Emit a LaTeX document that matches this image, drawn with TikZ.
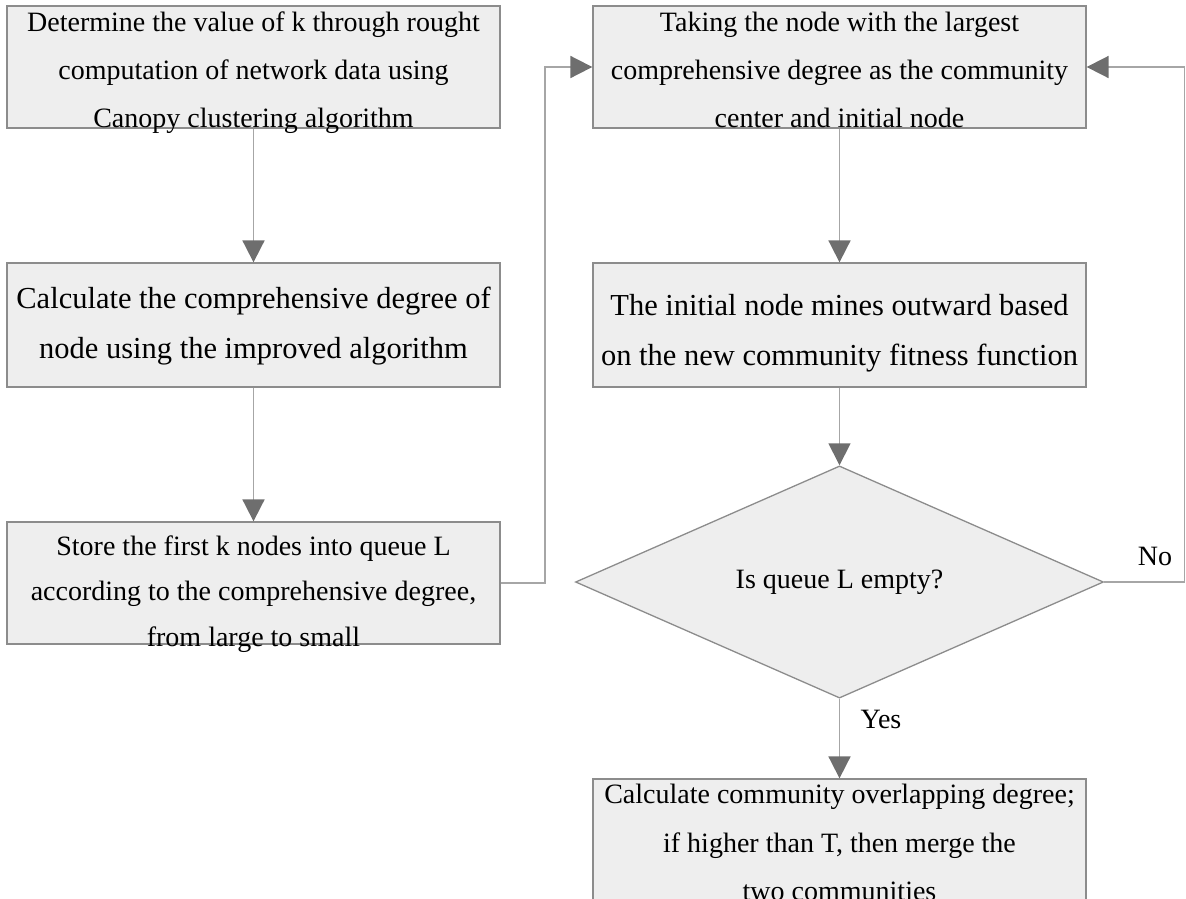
\documentclass[tikz,border=0pt]{standalone}
\usepackage{fontspec}
\setmainfont{Liberation Serif}
\usetikzlibrary{arrows.meta,shapes.geometric}
\definecolor{boxfill}{HTML}{EEEEEE}
\definecolor{boxline}{HTML}{8C8C8C}
\definecolor{connline}{HTML}{A6A6A6}
\definecolor{tipcol}{HTML}{6E6E6E}
\begin{document}
\begin{tikzpicture}[x=1pt,y=-1pt,
  box/.style={draw=boxline, fill=boxfill, line width=1.3pt, rectangle,
    minimum width=493pt, minimum height=122pt, inner sep=0pt},
  ln/.style={anchor=base, inner sep=0pt, font=\fontsize{28}{34}\selectfont},
  lnb/.style={anchor=base, inner sep=0pt, font=\fontsize{30.5}{36}\selectfont},
  connector/.style={draw=connline, line width=1.8pt,
    -{Triangle[length=22pt,width=22pt,color=tipcol]}},
  decision/.style={diamond, draw=boxline, fill=boxfill, line width=1.3pt,
    minimum width=528pt, minimum height=176pt, inner sep=0pt,
    font=\fontsize{28}{34}\selectfont}]
\useasboundingbox (0,0) rectangle (1186,898);
\clip (0,0) rectangle (1186,898);

% left column
\node[box] (b1) at (253.5,67) {};
\node[ln] (b1a) at (253.5,31) {Determine the value of k through rought};
\node[ln] (b1b) at (253.5,79) {computation of network data using};
\node[ln] (b1c) at (253.5,127) {Canopy clustering algorithm};

\node[box, minimum height=124pt] (b2) at (253.5,325) {};
\node[lnb] (b2a) at (253.5,308) {Calculate the comprehensive degree of};
\node[lnb] (b2b) at (253.5,358) {node using the improved algorithm};

\node[box] (b3) at (253.5,583) {};
\node[ln] (b3a) at (253.5,555) {Store the first k nodes into queue L};
\node[ln] (b3b) at (253.5,600) {according to the comprehensive degree,};
\node[ln] (b3c) at (253.5,646) {from large to small};

% right column
\node[box] (b4) at (839.5,67) {};
\node[ln] (b4a) at (839.5,31) {Taking the node with the largest};
\node[ln] (b4b) at (839.5,79) {comprehensive degree as the community};
\node[ln] (b4c) at (839.5,127) {center and initial node};

\node[box, minimum height=124pt] (b5) at (839.5,325) {};
\node[lnb] (b5a) at (839.5,315) {The initial node mines outward based};
\node[lnb] (b5b) at (839.5,365) {on the new community fitness function};

\node[decision] (dia) at (839.5,582) {Is queue L empty?};

\node[box, minimum height=130pt] (b6) at (839.5,844) {};
\node[ln] (b6a) at (839.5,803) {Calculate community overlapping degree;};
\node[ln] (b6b) at (839.5,852) {if higher than T, then merge the};
\node[ln] (b6c) at (839.5,900) {two communities};

% connector corners
\coordinate (lc) at (545,0);
\coordinate (rc) at (1184.5,0);

% connectors
\draw[connector] (b1.south) -- (b2.north);
\draw[connector] (b2.south) -- (b3.north);
\draw[connector] (b3.east) -- (b3.east -| lc) |- (b4.west);
\draw[connector] (b4.south) -- (b5.north);
\draw[connector] (b5.south) -- (dia.north);
\draw[connector] (dia.east) -- (dia.east -| rc) |- (b4.east);
\draw[connector] (dia.south) -- (b6.north);

% branch labels
\node[ln] (no) at (1155,565) {No};
\node[ln] (yes) at (881,728) {Yes};
\end{tikzpicture}
\end{document}
